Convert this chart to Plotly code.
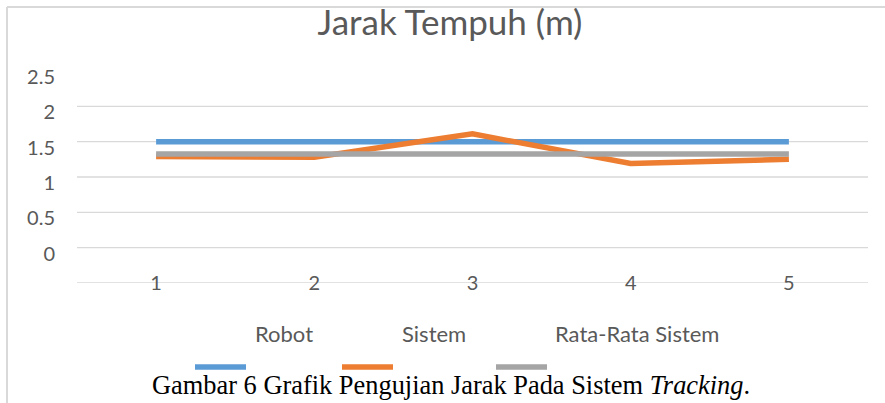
import plotly.graph_objects as go

# ---- data ----
categories = ["1", "2", "3", "4", "5"]
robot = [1.5, 1.5, 1.5, 1.5, 1.5]
sistem = [1.29, 1.28, 1.61, 1.19, 1.25]
rata_rata = [1.324, 1.324, 1.324, 1.324, 1.324]
series_names = ["Robot", "Sistem", "Rata-Rata Sistem"]
y_ticks = [0, 0.5, 1, 1.5, 2, 2.5]
y_tick_text = ["0", "0.5", "1", "1.5", "2", "2.5"]
grid_values = [-0.5, 0, 0.5, 1, 1.5, 2]
title_text = "Jarak Tempuh (m)"
caption_text = "Gambar 6 Grafik Pengujian Jarak Pada Sistem <i>Tracking</i>."

colors = ["#5B9BD5", "#ED7D31", "#A5A5A5"]
FONT = "Lato"
GRAY_TXT = "#595959"
GRID = "#D9D9D9"

W, H = 885, 403
L, R, T, B = 77, 17, 71, 120
PW, PH = W - L - R, H - T - B


def px_x(px):
    return (px - L) / PW


def px_y(py):
    return (H - B - py) / PH


fig = go.Figure()
for name, vals, col in zip(series_names, [robot, sistem, rata_rata], colors):
    fig.add_trace(go.Scatter(
        x=categories, y=vals, name=name, mode="lines",
        line=dict(color=col, width=5.5), showlegend=False,
    ))

shapes = []
for gv in grid_values:
    shapes.append(dict(type="line", xref="paper", yref="y", x0=0, x1=1, y0=gv, y1=gv,
                       line=dict(color=GRID, width=1.3), layer="below"))
# chart border (left + top)
shapes.append(dict(type="line", xref="paper", yref="paper", x0=px_x(7), x1=px_x(7),
                   y0=px_y(7), y1=px_y(410), line=dict(color=GRID, width=2)))
shapes.append(dict(type="line", xref="paper", yref="paper", x0=px_x(7), x1=px_x(900),
                   y0=px_y(7), y1=px_y(7), line=dict(color=GRID, width=2)))

annotations = []
# custom legend (symbol below-left of label, as in the original)
leg_sym_x = [195, 342, 496]
leg_txt_x = [253, 400, 553]
for name, col, sx, tx in zip(series_names, colors, leg_sym_x, leg_txt_x):
    shapes.append(dict(type="line", xref="paper", yref="paper", x0=px_x(sx), x1=px_x(sx + 51),
                       y0=px_y(367), y1=px_y(367), line=dict(color=col, width=5.5)))
    annotations.append(dict(xref="paper", yref="paper", x=px_x(tx), y=px_y(333),
                            xanchor="left", yanchor="middle", showarrow=False, text=name,
                            font=dict(family=FONT, size=22, color=GRAY_TXT)))

# caption
annotations.append(dict(xref="paper", yref="paper", x=px_x(451), y=px_y(385),
                        xanchor="center", yanchor="middle", showarrow=False, text=caption_text,
                        font=dict(family="Liberation Serif", size=26.4, color="#000000")))

fig.update_layout(
    width=W, height=H, autosize=False,
    margin=dict(l=L, r=R, t=T, b=B),
    paper_bgcolor="white", plot_bgcolor="white",
    title=dict(text=title_text, x=450 / W, xanchor="center", xref="container",
               y=1 - 23 / H, yref="container", yanchor="middle",
               font=dict(family=FONT, size=35, color=GRAY_TXT)),
    shapes=shapes, annotations=annotations,
    xaxis=dict(type="category", range=[-0.5, 4.5], showgrid=False, zeroline=False,
               showline=False, ticks="", ticklabelstandoff=-14,
               tickfont=dict(family=FONT, size=20, color=GRAY_TXT)),
    yaxis=dict(range=[-0.5, 2.5], tickvals=y_ticks, ticktext=y_tick_text, showgrid=False,
               zeroline=False, showline=False, ticks="", ticklabelshift=6,
               ticklabelstandoff=21,
               tickfont=dict(family=FONT, size=20, color=GRAY_TXT)),
)

fig.write_html("out.html", config={"displayModeBar": False},
               post_script="document.body.style.margin='0';document.body.style.overflow='hidden';")
